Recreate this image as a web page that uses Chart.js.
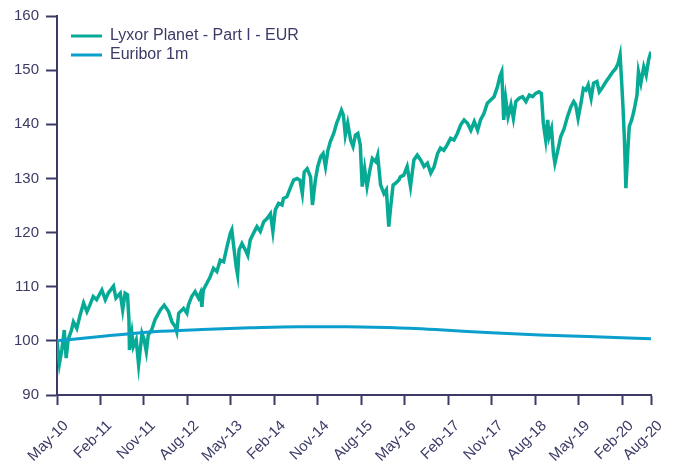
<!DOCTYPE html>
<html>
<head>
<meta charset="utf-8">
<script src="https://cdn.jsdelivr.net/npm/chart.js@4.4.1/dist/chart.umd.min.js"></script>
<style>
    body { margin: 0; background: #ffffff; }
    #wrap { width: 677px; height: 469px; position: relative; }
</style>
</head>
<body>
<div id="wrap"><canvas id="linechart"></canvas></div>
<script>
// months counted from May-2010
var monthNames = ['Jan', 'Feb', 'Mar', 'Apr', 'May', 'Jun', 'Jul', 'Aug', 'Sep', 'Oct', 'Nov', 'Dec'];
var tickMonths = [0, 9, 18, 27, 36, 45, 54, 63, 72, 81, 90, 99, 108, 117, 123];
var yTicks = [90, 100, 110, 120, 130, 140, 150, 160];

var fundMonths = [0, 0.5, 1.0, 1.5, 1.9, 2.3, 3.0, 3.4, 4.1, 4.8,
    5.5, 6.2, 6.8, 7.5, 8.2, 9.3, 10.0, 10.6, 11.7, 12.2,
    13.1, 13.6, 14.1, 14.6, 14.9, 15.0, 15.5, 15.8, 16.4, 16.9,
    17.6, 18.0, 18.5, 18.9, 19.6, 20.3, 21.4, 22.2, 23.1, 23.8,
    24.5, 24.8, 25.2, 26.2, 26.9, 27.2, 27.9, 28.6, 29.3, 29.7,
    30.0, 30.3, 31.0, 31.7, 32.4, 33.1, 33.8, 34.5, 35.2, 35.9,
    36.2, 36.6, 37.1, 37.4, 37.7, 38.3, 39.0, 39.5, 40.0, 40.7,
    41.4, 42.1, 42.8, 43.5, 44.2, 44.7, 45.2, 45.9, 46.6, 46.9,
    47.6, 48.3, 49.0, 49.7, 50.3, 50.8, 51.2, 51.8, 52.5, 52.9,
    53.5, 54.0, 54.6, 55.1, 55.6, 56.1, 56.6, 57.3, 57.9, 58.3,
    58.9, 59.3, 59.7, 60.2, 60.8, 61.3, 61.8, 62.3, 62.8, 63.2,
    63.7, 64.2, 64.8, 65.3, 66.0, 66.4, 67.0, 67.7, 68.2, 68.7,
    69.1, 69.6, 70.1, 70.8, 71.1, 71.8, 72.5, 73.2, 73.9, 74.6,
    75.3, 76.0, 76.7, 77.4, 78.1, 78.8, 79.4, 80.1, 80.8, 81.5,
    82.2, 82.9, 83.6, 84.3, 85.0, 85.7, 86.4, 87.1, 87.7, 88.4,
    89.1, 89.8, 90.5, 91.2, 91.7, 92.1, 92.5, 92.9, 93.4, 94.0,
    94.5, 95.0, 95.7, 96.4, 97.1, 97.8, 98.5, 99.1, 99.8, 100.3,
    100.7, 101.2, 101.6, 101.9, 102.4, 102.8, 103.1, 103.7, 104.3, 105.0,
    105.7, 106.4, 107.0, 107.4, 107.9, 108.5, 109.0, 109.5, 110.0, 110.6,
    111.1, 111.8, 112.3, 113.0, 113.7, 114.4, 115.1, 115.7, 116.2, 116.6,
    116.9, 117.2, 117.5, 117.8, 118.2, 118.5, 119.0, 119.5, 120.1, 120.4,
    120.9, 121.5, 122.0, 122.5, 123.0];

var fundValues = [100.0, 95.8, 98.3, 102.0, 96.8, 100.2, 102.0, 103.5, 102.3, 104.8,
    107.0, 105.4, 106.6, 108.2, 107.6, 109.4, 107.6, 108.8, 110.1, 107.9,
    108.8, 105.7, 108.8, 108.5, 103.9, 98.3, 101.4, 98.9, 100.2, 95.6,
    101.4, 100.4, 98.0, 101.1, 102.0, 103.9, 105.7, 106.6, 105.4, 103.5,
    102.6, 101.7, 105.1, 106.0, 105.1, 106.6, 108.2, 109.1, 107.9, 108.8,
    106.3, 109.4, 110.6, 111.8, 113.4, 112.8, 114.9, 114.6, 117.4, 119.9,
    120.5, 117.4, 113.7, 112.2, 116.8, 118.0, 116.8, 115.8, 118.6, 119.9,
    121.1, 120.2, 122.0, 122.6, 123.5, 120.2, 124.2, 125.4, 125.1, 126.3,
    126.6, 128.2, 129.7, 130.0, 129.7, 127.2, 131.2, 131.8, 130.3, 125.1,
    129.7, 132.2, 134.0, 134.6, 132.2, 135.2, 136.8, 138.3, 140.2, 141.1,
    142.6, 141.7, 138.0, 140.2, 137.1, 135.9, 138.0, 138.3, 136.2, 128.5,
    131.8, 128.5, 131.6, 133.7, 133.1, 134.3, 128.8, 127.2, 127.9, 121.1,
    124.8, 128.8, 129.1, 129.7, 130.3, 130.6, 132.2, 128.5, 133.4, 134.3,
    133.4, 132.2, 132.8, 131.0, 132.2, 134.6, 135.6, 135.2, 136.2, 137.4,
    137.1, 138.3, 139.9, 140.8, 140.2, 138.9, 140.5, 138.9, 140.8, 142.0,
    143.9, 144.5, 145.1, 146.9, 148.8, 149.7, 140.8, 144.8, 141.4, 143.6,
    141.1, 144.2, 144.8, 145.1, 144.2, 145.4, 145.1, 145.7, 146.0, 145.7,
    140.2, 137.1, 140.8, 137.7, 139.2, 134.6, 132.8, 135.2, 137.7, 139.2,
    141.4, 143.2, 144.2, 143.6, 141.1, 143.9, 146.6, 146.3, 147.3, 144.8,
    147.6, 147.9, 146.0, 146.9, 147.9, 148.8, 149.7, 150.3, 151.3, 152.8,
    148.2, 143.2, 137.1, 128.2, 135.2, 139.6, 140.8, 142.6, 145.4, 149.7,
    147.6, 150.6, 149.1, 151.9, 153.4];

var euriborMonths = [0, 10, 20, 30, 40, 50, 60, 70, 80, 90, 100, 110, 123];
var euriborValues = [100.0, 100.9, 101.7, 102.1, 102.4, 102.6, 102.6, 102.4, 102.0, 101.5, 101.1, 100.8, 100.4];

var axisColor = '#3b3b66';
var fontFamily = '"Liberation Sans", Arial, sans-serif';

function toPoints(xs, ys) {
    var pts = [];
    for (var i = 0; i < xs.length; i++) {
        pts.push({ x: xs[i], y: ys[i] });
    }
    return pts;
}

function monthLabel(m) {
    var total = 4 + m;
    var year = 2010 + Math.floor(total / 12);
    return monthNames[total % 12] + '-' + String(year).slice(2);
}

// legend sits inside the plot, a bit below and right of the corner
var legendShift = {
    id: 'legendShift',
    afterLayout: function (chart) {
        var lg = chart.legend;
        var w = lg.width, h = lg.height;
        lg.left = chart.chartArea.left + 11;
        lg.top = chart.chartArea.top + 9;
        lg.right = lg.left + w;
        lg.bottom = lg.top + h;
    }
};

document.addEventListener('DOMContentLoaded', function () {
    createLineChart();
});

function createLineChart() {
    var ctx = document.getElementById('linechart').getContext('2d');

    var chart = new Chart(ctx, {
        type: 'line',
        data: {
            datasets: [
                {
                    label: 'Lyxor Planet - Part I - EUR',
                    data: toPoints(fundMonths, fundValues),
                    borderColor: '#07ab95',
                    backgroundColor: '#07ab95',
                    borderWidth: 3.5,
                    pointRadius: 0,
                    tension: 0,
                    order: 1
                },
                {
                    label: 'Euribor 1m',
                    data: toPoints(euriborMonths, euriborValues),
                    borderColor: '#0a9fcc',
                    backgroundColor: '#0a9fcc',
                    borderWidth: 3,
                    pointRadius: 0,
                    cubicInterpolationMode: 'monotone',
                    order: 0
                }
            ]
        },
        plugins: [legendShift],
        options: {
            responsive: true,
            maintainAspectRatio: false,
            animation: false,
            layout: {
                padding: { top: 16, right: 26, left: 0, bottom: 0 }
            },
            plugins: {
                tooltip: { enabled: false },
                legend: {
                    position: 'chartArea',
                    align: 'start',
                    labels: {
                        boxWidth: 31,
                        boxHeight: 3,
                        padding: 3,
                        color: axisColor,
                        font: { family: fontFamily, size: 16 },
                        sort: function (a, b) { return a.datasetIndex - b.datasetIndex; },
                        generateLabels: function (chart) {
                            var items = Chart.defaults.plugins.legend.labels.generateLabels(chart);
                            items.forEach(function (it) { it.lineWidth = 0; });
                            return items;
                        }
                    }
                }
            },
            scales: {
                x: {
                    type: 'linear',
                    min: 0,
                    max: 123,
                    afterFit: function (scale) { scale.height = 74; },
                    afterBuildTicks: function (scale) {
                        scale.ticks = tickMonths.map(function (m) { return { value: m }; });
                    },
                    grid: {
                        drawOnChartArea: false,
                        drawTicks: true,
                        tickLength: 10,
                        tickColor: axisColor,
                        tickWidth: 2
                    },
                    border: { color: axisColor, width: 2 },
                    ticks: {
                        autoSkip: false,
                        minRotation: 45,
                        maxRotation: 45,
                        padding: 12,
                        labelOffset: 9,
                        color: axisColor,
                        font: { family: fontFamily, size: 15 },
                        callback: function (value) { return monthLabel(value); }
                    }
                },
                y: {
                    min: 90,
                    max: 160,
                    afterFit: function (scale) { scale.width = 57; },
                    afterBuildTicks: function (scale) {
                        scale.ticks = yTicks.map(function (v) { return { value: v }; });
                    },
                    grid: {
                        drawOnChartArea: false,
                        drawTicks: true,
                        tickLength: 11,
                        tickColor: axisColor,
                        tickWidth: 2
                    },
                    border: { color: axisColor, width: 2 },
                    ticks: {
                        padding: 7,
                        color: axisColor,
                        font: { family: fontFamily, size: 15 }
                    }
                }
            }
        }
    });
}
</script>
</body>
</html>
